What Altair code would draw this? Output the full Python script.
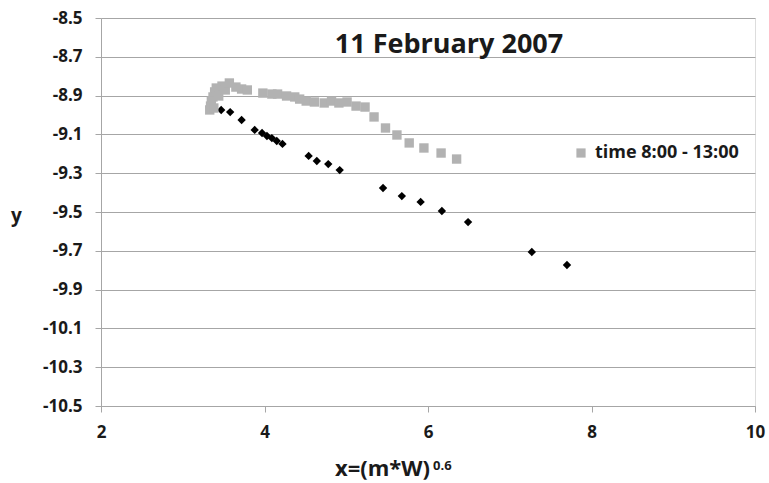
import altair as alt
import pandas as pd

# Series 1: black diamonds (no legend entry)
black_x = [3.47, 3.58, 3.72, 3.88, 3.97, 4.03, 4.09, 4.15, 4.22, 4.54, 4.64, 4.78, 4.92,
           5.45, 5.68, 5.91, 6.17, 6.49, 7.27, 7.70]
black_y = [-8.974, -8.985, -9.026, -9.077, -9.093, -9.108, -9.119, -9.134, -9.149, -9.211,
           -9.237, -9.253, -9.284, -9.376, -9.418, -9.448, -9.495, -9.552, -9.706, -9.773]

# Series 2: grey squares "time 8:00 - 13:00"
grey_x = [3.33, 3.34, 3.35, 3.37, 3.38, 3.39, 3.41, 3.44, 3.48, 3.52, 3.57, 3.65, 3.72, 3.79,
          3.98, 4.09, 4.16, 4.27, 4.37, 4.43, 4.51, 4.61, 4.73, 4.82, 4.91, 5.01, 5.12,
          5.23, 5.34, 5.48, 5.62, 5.77, 5.95, 6.16, 6.35]
grey_y = [-8.974, -8.954, -8.928, -8.907, -8.964, -8.881, -8.861, -8.902, -8.851, -8.871,
          -8.835, -8.856, -8.866, -8.871, -8.887, -8.892, -8.892, -8.902, -8.907, -8.918,
          -8.928, -8.933, -8.938, -8.928, -8.938, -8.933, -8.954, -8.959, -9.010, -9.067,
          -9.103, -9.144, -9.170, -9.196, -9.227]
grey_label = "time 8:00 - 13:00"

y_ticks = [-8.5, -8.7, -8.9, -9.1, -9.3, -9.5, -9.7, -9.9, -10.1, -10.3, -10.5]
x_ticks = [2, 4, 6, 8, 10]

chart_title = "11 February 2007"
x_title = "x=(m*W)"
x_title_sup = "0.6"
y_title = "y"

FONT = "Open Sans"
GRID = "#a6a6a6"
TXT = "#1a1a1a"

df_black = pd.DataFrame({"x": black_x, "y": black_y})
df_grey = pd.DataFrame({"x": grey_x, "y": grey_y, "series": [grey_label] * len(grey_x)})

xscale = alt.Scale(domain=[2, 10], nice=False, zero=False)
yscale = alt.Scale(domain=[-10.5, -8.5], nice=False, zero=False)

xaxis = alt.Axis(values=x_ticks, tickCount=20, format="d", title=None, grid=False,
                 domainColor=GRID, tickColor=GRID, tickSize=6, labelPadding=12,
                 labelFont=FONT, labelFontWeight="bold", labelFontSize=17, labelColor=TXT,
                 labelFlush=False, labelOverlap=False, labelBound=False)
yaxis = alt.Axis(values=y_ticks, tickCount=20, title=y_title, grid=True, gridColor=GRID,
                 domainColor=GRID, tickColor=GRID, tickSize=6, labelPadding=13,
                 labelFont=FONT, labelFontWeight="bold", labelFontSize=17, labelColor=TXT,
                 labelFlush=False, labelOverlap=False, labelBound=False,
                 labelExpr="replace(format(datum.value, '.1f'), '\u2212', '-')",
                 titleAngle=0, titleX=-85, titleY=197, titleAlign="center",
                 titleBaseline="middle", titleFont=FONT, titleFontSize=19,
                 titleFontWeight="bold", titleColor=TXT)

black = alt.Chart(df_black).mark_point(shape="diamond", filled=True, size=70, color="#000000",
                                        opacity=1).encode(
    x=alt.X("x:Q", scale=xscale, axis=xaxis),
    y=alt.Y("y:Q", scale=yscale, axis=yaxis),
)

grey = alt.Chart(df_grey).mark_point(shape="square", filled=True, size=88, opacity=1).encode(
    x=alt.X("x:Q", scale=xscale),
    y=alt.Y("y:Q", scale=yscale),
    color=alt.Color("series:N", scale=alt.Scale(domain=[grey_label], range=["#b2b2b2"]),
                    legend=alt.Legend(title=None, orient="none", legendX=471, legendY=126,
                                      symbolType="square", symbolSize=85, symbolStrokeWidth=0,
                                      labelFont=FONT, labelFontSize=18, labelFontWeight="bold",
                                      labelColor=TXT, labelOffset=5, padding=0)),
)

title_df = pd.DataFrame({"t": [chart_title]})
title = alt.Chart(title_df).mark_text(font=FONT, fontSize=27, fontWeight="bold", color=TXT,
                                      align="center", baseline="middle").encode(
    text="t:N", x=alt.value(348), y=alt.value(27))

xt_df = pd.DataFrame({"t": [x_title]})
xt = alt.Chart(xt_df).mark_text(font=FONT, fontSize=22, fontWeight="bold", color=TXT,
                                align="right", baseline="middle").encode(
    text="t:N", x=alt.value(329), y=alt.value(451))
xs_df = pd.DataFrame({"t": [x_title_sup]})
xs = alt.Chart(xs_df).mark_text(font=FONT, fontSize=13, fontWeight="bold", color=TXT,
                                align="left", baseline="middle").encode(
    text="t:N", x=alt.value(332), y=alt.value(448))

chart = alt.layer(black, grey, title, xt, xs).properties(
    width=654, height=388,
    autosize=alt.AutoSizeParams(type="none"),
    padding={"left": 101, "top": 18, "right": 14, "bottom": 77},
).configure_view(stroke=None).configure(background="white")

chart.save("out.html", embed_options={"renderer": "svg", "actions": False})
